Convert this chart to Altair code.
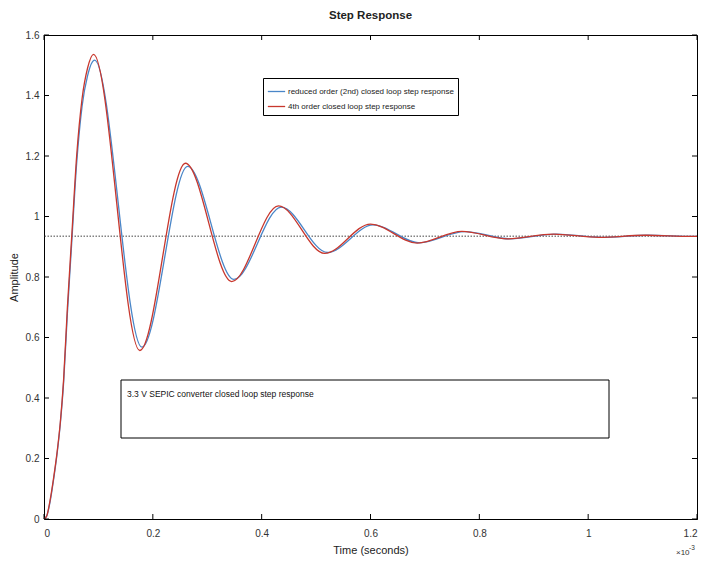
import altair as alt
import pandas as pd

FONT = "Liberation Sans, Arial, sans-serif"

series_names = ["reduced order (2nd) closed loop step response",
                "4th order closed loop step response"]
series_colors = ["#4a86c8", "#c8372d"]

# reduced order (2nd) response, time in ms (axis x 10^-3 s)
t_2nd = [0.000, 0.005, 0.011, 0.018, 0.024, 0.030, 0.036, 0.043, 0.051, 0.060,
         0.070, 0.080, 0.093, 0.180, 0.264, 0.349, 0.436, 0.521, 0.605, 0.690,
         0.773, 0.857, 0.941, 1.025, 1.110, 1.195, 1.200]
y_2nd = [0.000, 0.010, 0.055, 0.135, 0.215, 0.315, 0.450, 0.680, 0.915, 1.175,
         1.365, 1.465, 1.517, 0.568, 1.166, 0.792, 1.031, 0.881, 0.972, 0.913,
         0.950, 0.926, 0.942, 0.931, 0.938, 0.934, 0.934]

# 4th order response
t_4th = [0.000, 0.005, 0.011, 0.018, 0.024, 0.030, 0.036, 0.043, 0.051, 0.060,
         0.070, 0.080, 0.091, 0.176, 0.260, 0.345, 0.431, 0.516, 0.600, 0.686,
         0.768, 0.852, 0.936, 1.020, 1.105, 1.190, 1.200]
y_4th = [0.000, 0.010, 0.060, 0.140, 0.220, 0.320, 0.460, 0.700, 0.935, 1.200,
         1.390, 1.490, 1.536, 0.557, 1.176, 0.785, 1.035, 0.878, 0.975, 0.912,
         0.951, 0.926, 0.942, 0.931, 0.938, 0.934, 0.934]

x_ticks = [0, 0.2, 0.4, 0.6, 0.8, 1.0, 1.2]
y_ticks = [0, 0.2, 0.4, 0.6, 0.8, 1.0, 1.2, 1.4, 1.6]
steady_value = [0.935]
annotation_text = ["3.3 V  SEPIC converter closed loop step response"]
exponent_base = ["\u00d710"]
exponent_power = ["-3"]

rows = []
for tt, yy in zip(t_2nd, y_2nd):
    rows.append({"t": tt, "y": yy, "series": series_names[0]})
for tt, yy in zip(t_4th, y_4th):
    rows.append({"t": tt, "y": yy, "series": series_names[1]})
df = pd.DataFrame(rows)
xt_df = pd.DataFrame({"t": x_ticks})
yt_df = pd.DataFrame({"y": y_ticks})

W, H = 653, 484
TL = 5  # inward tick length
xs = alt.Scale(domain=[0, 1.2], nice=False, zero=False)
ys = alt.Scale(domain=[0, 1.6], nice=False, zero=False)

lines = alt.Chart(df).mark_line(strokeWidth=1.3, interpolate="monotone").encode(
    x=alt.X("t:Q", scale=xs, axis=alt.Axis(
        orient="bottom", values=x_ticks, format="~g", tickSize=0, labelPadding=9,
        title="Time (seconds)", titleY=31, titleBaseline="middle", grid=False,
        domainColor="black", domainWidth=1)),
    y=alt.Y("y:Q", scale=ys, axis=alt.Axis(
        orient="left", values=y_ticks, format="~g", tickSize=0, labelPadding=5,
        title="Amplitude", titleX=-30, titleY=H / 2, titleAngle=270,
        titleAlign="center", titleBaseline="middle", grid=False,
        domainColor="black", domainWidth=1)),
    color=alt.Color("series:N",
                    scale=alt.Scale(domain=series_names, range=series_colors),
                    legend=alt.Legend(title=None, orient="none", legendX=219, legendY=43,
                                      strokeColor="black", fillColor="white", padding=4,
                                      symbolType="stroke", symbolSize=300,
                                      symbolStrokeWidth=1.3, labelFontSize=8,
                                      labelFont=FONT, labelOffset=2, rowPadding=1,
                                      labelLimit=400, labelColor="#222")),
    order=alt.Order("t:Q"),
)

tick_style = dict(color="black", strokeWidth=1)
ticks_bottom = alt.Chart(xt_df).mark_rule(**tick_style).encode(
    x=alt.X("t:Q", scale=xs), y=alt.value(H - TL), y2=alt.value(H))
ticks_top = alt.Chart(xt_df).mark_rule(**tick_style).encode(
    x=alt.X("t:Q", scale=xs), y=alt.value(0), y2=alt.value(TL))
ticks_left = alt.Chart(yt_df).mark_rule(**tick_style).encode(
    y=alt.Y("y:Q", scale=ys), x=alt.value(0), x2=alt.value(TL))
ticks_right = alt.Chart(yt_df).mark_rule(**tick_style).encode(
    y=alt.Y("y:Q", scale=ys), x=alt.value(W - TL), x2=alt.value(W))

steady = alt.Chart(pd.DataFrame({"y": steady_value})).mark_rule(
    color="#444444", strokeWidth=1, strokeDash=[1.5, 1.5]
).encode(y=alt.Y("y:Q", scale=ys))

ann_df = pd.DataFrame({"label": annotation_text})
ann_box = alt.Chart(ann_df).mark_rect(fill="white", stroke="black", strokeWidth=1).encode(
    x=alt.value(77), x2=alt.value(565), y=alt.value(345), y2=alt.value(403))
ann_text = alt.Chart(ann_df).mark_text(
    align="left", baseline="middle", fontSize=8.5, font=FONT, color="#111"
).encode(x=alt.value(83), y=alt.value(359), text="label:N")

exp_base = alt.Chart(pd.DataFrame({"label": exponent_base})).mark_text(
    align="left", baseline="middle", fontSize=8, font=FONT, color="#333"
).encode(x=alt.value(632), y=alt.value(518), text="label:N")
exp_pow = alt.Chart(pd.DataFrame({"label": exponent_power})).mark_text(
    align="left", baseline="middle", fontSize=6.5, font=FONT, color="#333"
).encode(x=alt.value(645), y=alt.value(513), text="label:N")

chart = alt.layer(
    ann_box, ann_text, steady, lines,
    ticks_bottom, ticks_top, ticks_left, ticks_right, exp_base, exp_pow
).properties(
    width=W, height=H,
    title=alt.TitleParams("Step Response", fontSize=11.5, fontWeight="bold", font=FONT,
                          anchor="middle", offset=9, color="#222"),
    autosize=alt.AutoSizeParams(type="none"),
    padding={"left": 44, "top": 35, "right": 6, "bottom": 46},
    background="white",
).configure_view(stroke="black", strokeWidth=1).configure_axis(
    labelFont=FONT, labelFontSize=10, labelColor="#333",
    titleFont=FONT, titleFontSize=11, titleColor="#222", titleFontWeight="normal",
)

chart.save("out.html", embed_options={"renderer": "svg", "actions": False})
